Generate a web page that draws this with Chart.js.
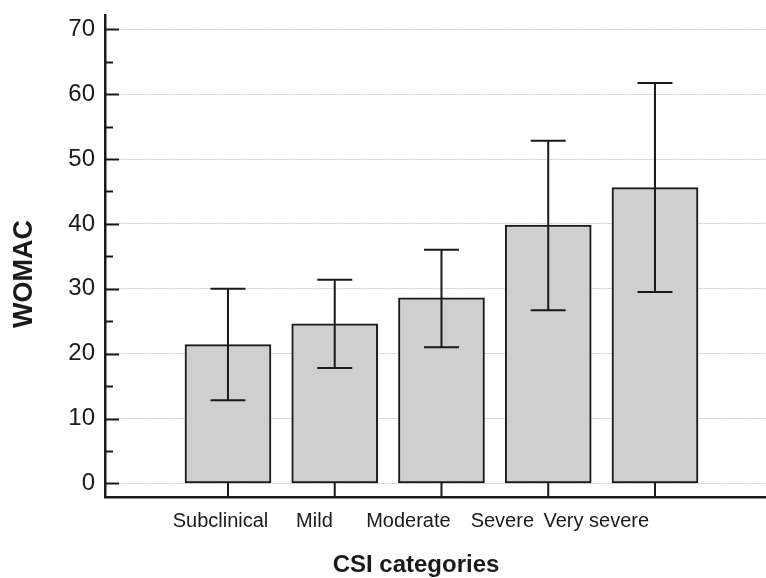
<!DOCTYPE html>
<html>
<head>
<meta charset="utf-8">
<script src="https://cdn.jsdelivr.net/npm/chart.js@4.4.1/dist/chart.umd.min.js"></script>
<style>
  html, body { margin: 0; padding: 0; background: #fff; }
  #wrap { width: 766px; height: 578px; position: relative; }
</style>
</head>
<body>
<div id="wrap"><canvas id="womacChart"></canvas></div>
<script>
// values
const categories = ["Subclinical", "Mild", "Moderate", "Severe", "Very severe"];
const womacMean = [21.4, 24.6, 28.6, 39.8, 45.6];
const errLow = [12.8, 17.8, 21.0, 26.7, 29.5];
const errHigh = [30.0, 31.4, 36.0, 52.8, 61.7];
const yTicks = [0, 10, 20, 30, 40, 50, 60, 70];
const yMinorTicks = [5, 15, 25, 35, 45, 55, 65];

const FONT = "'Liberation Sans', Arial, sans-serif";
const INK = "#1a1a1a";

// error bars, inward tick marks and axis titles
const extrasPlugin = {
    id: "extras",
    afterDatasetsDraw(chart) {
        const ctx = chart.ctx;
        const y = chart.scales.y;
        const area = chart.chartArea;
        const meta = chart.getDatasetMeta(0);

        ctx.save();
        ctx.strokeStyle = INK;
        ctx.lineWidth = 2;

        meta.data.forEach((bar, i) => {
            let top = y.getPixelForValue(errHigh[i]);
            let bot = y.getPixelForValue(errLow[i]);
            ctx.beginPath();
            ctx.moveTo(bar.x, top);
            ctx.lineTo(bar.x, bot);
            ctx.moveTo(bar.x - 17.5, top);
            ctx.lineTo(bar.x + 17.5, top);
            ctx.moveTo(bar.x - 17.5, bot);
            ctx.lineTo(bar.x + 17.5, bot);
            ctx.stroke();

            // x tick pointing up from the axis
            ctx.beginPath();
            ctx.moveTo(bar.x, area.bottom);
            ctx.lineTo(bar.x, area.bottom - 14);
            ctx.stroke();
        });

        // y ticks pointing into the plot
        yTicks.forEach(v => {
            let py = Math.round(y.getPixelForValue(v)) + 0.5;
            ctx.beginPath();
            ctx.moveTo(area.left, py);
            ctx.lineTo(area.left + 14, py);
            ctx.stroke();
        });
        yMinorTicks.forEach(v => {
            let py = Math.round(y.getPixelForValue(v)) + 0.5;
            ctx.beginPath();
            ctx.moveTo(area.left, py);
            ctx.lineTo(area.left + 8, py);
            ctx.stroke();
        });
        ctx.restore();
    },
    afterDraw(chart) {
        const ctx = chart.ctx;
        ctx.save();
        ctx.fillStyle = INK;
        ctx.textAlign = "center";
        ctx.textBaseline = "middle";

        ctx.font = "bold 24px " + FONT;
        ctx.fillText("CSI categories", 416, 565);

        ctx.translate(25, 274);
        ctx.rotate(-Math.PI / 2);
        ctx.font = "bold 27px " + FONT;
        ctx.fillText("WOMAC", 0, 0);
        ctx.restore();
    }
};

let ctx = document.getElementById("womacChart").getContext("2d");

window.womacChart = new Chart(ctx, {
    type: "bar",
    data: {
        datasets: [{
            label: "WOMAC",
            data: categories.map((c, i) => ({ x: i, y: womacMean[i] })),
            backgroundColor: "#cfcfcf",
            borderColor: INK,
            borderWidth: 2,
            borderSkipped: false,
            barThickness: 86
        }]
    },
    options: {
        responsive: true,
        maintainAspectRatio: false,
        animation: false,
        layout: {
            padding: { top: 15, left: 0, right: 0, bottom: 0 }
        },
        plugins: {
            legend: { display: false },
            tooltip: { enabled: false }
        },
        scales: {
            x: {
                type: "linear",
                offset: false,
                min: -1.152,
                max: 5.04,
                afterFit: s => {
                    s.height = 81;
                    s.paddingLeft = 0;
                    s.paddingRight = 0;
                },
                // labels in the picture sit a little left of their bars
                afterBuildTicks: s => {
                    s.ticks = categories.map((c, i) => ({ value: i * 0.88 - 0.07 }));
                },
                ticks: {
                    callback: (value, index) => categories[index],
                    font: { family: FONT, size: 20 },
                    color: INK,
                    padding: 12,
                    autoSkip: false,
                    maxRotation: 0
                },
                grid: { display: false, drawTicks: false, offset: false },
                border: { color: INK, width: 2.5 }
            },
            y: {
                min: -2.1,
                max: 72.2,
                afterFit: s => {
                    s.width = 105;
                    s.paddingTop = 0;
                    s.paddingBottom = 0;
                },
                afterBuildTicks: s => {
                    s.ticks = yTicks.map(v => ({ value: v }));
                },
                ticks: {
                    font: { family: FONT, size: 24 },
                    color: INK,
                    padding: 10
                },
                grid: { color: "#c8c8c8", lineWidth: 1, drawTicks: false },
                border: { color: INK, width: 2.5, dash: [2, 1] }
            }
        }
    },
    plugins: [extrasPlugin]
});
</script>
</body>
</html>
